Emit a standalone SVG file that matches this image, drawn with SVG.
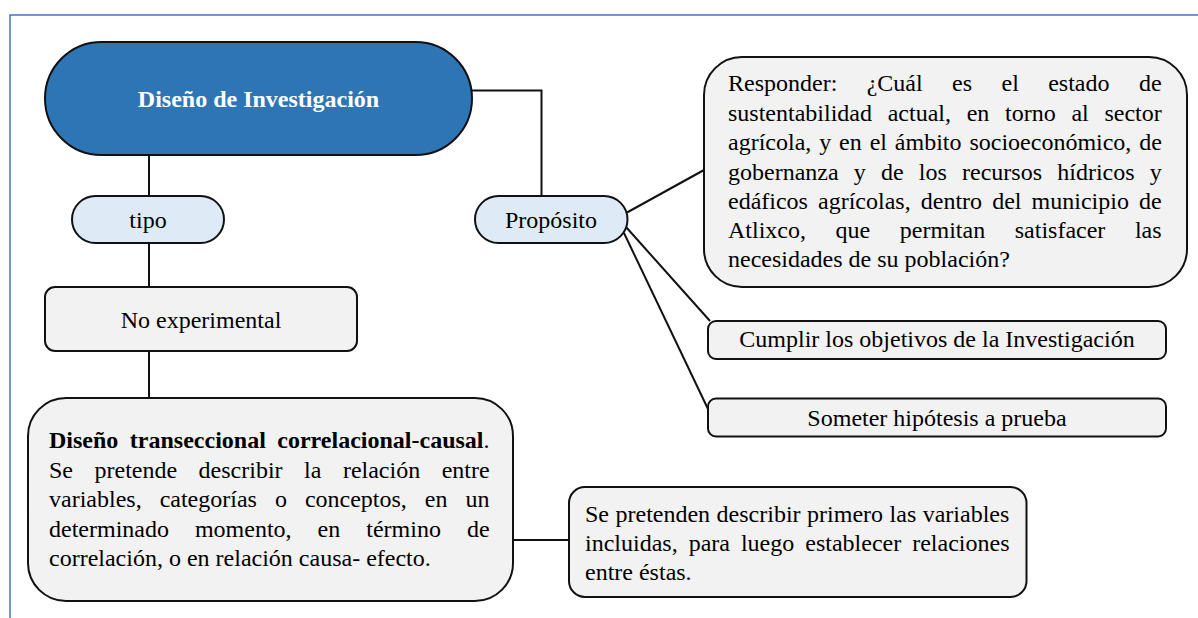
<svg xmlns="http://www.w3.org/2000/svg" width="1198" height="618" viewBox="0 0 1198 618">
<style>
text{font-family:"Liberation Serif","Times New Roman",serif;font-size:24px;fill:#000}
.c{text-anchor:middle}
.w{fill:#fff;font-weight:bold}
.b{font-weight:bold}
.box{fill:#F2F2F2;stroke:#111;stroke-width:2}
.pill{fill:#DEEBF7;stroke:#111;stroke-width:2}
.main{fill:#2E75B6;stroke:#111;stroke-width:2}
.ln{fill:none;stroke:#111;stroke-width:2}
.frame{fill:none;stroke:#4472C4;stroke-width:1.5}
</style>
<path class="frame" d="M10,618 V15 H1198"/>
<g id="connectors">
<path class="ln" d="M472,90.5 H541.5 V196"/>
<path class="ln" d="M149,155 V196"/>
<path class="ln" d="M149,243 V287"/>
<path class="ln" d="M149,351 V398"/>
<path class="ln" d="M627,212.5 L704,170"/>
<path class="ln" d="M626,227 L710,321"/>
<path class="ln" d="M624,233 L708,409"/>
<path class="ln" d="M513,540 H569"/>
</g>
<g id="n-main">
<rect class="main" x="45" y="42" width="427" height="113" rx="56.5"/>
<text class="c w" x="258.5" y="107">Diseño de Investigación</text>
</g>
<g id="n-tipo">
<rect class="pill" x="72" y="196" width="152" height="47" rx="23.5"/>
<text class="c" x="148" y="228">tipo</text>
</g>
<g id="n-proposito">
<rect class="pill" x="475" y="196" width="152.5" height="47" rx="23.5"/>
<text class="c" x="551" y="228">Propósito</text>
</g>
<g id="n-noexp">
<rect class="box" x="45" y="287" width="312" height="64" rx="10"/>
<text class="c" x="201" y="328">No experimental</text>
</g>
<g id="n-diseno">
<rect class="box" x="28" y="398" width="485" height="203" rx="38"/>
<text x="49" y="447.5" word-spacing="5.5"><tspan class="b">Diseño transeccional correlacional-causal</tspan>.</text>
<text x="49" y="477.5" word-spacing="15.5">Se pretende describir la relación entre</text>
<text x="49" y="507" word-spacing="12">variables, categorías o conceptos, en un</text>
<text x="49" y="536.5" word-spacing="20">determinado momento, en término de</text>
<text x="49" y="566">correlación, o en relación causa- efecto.</text>
</g>
<g id="n-responder">
<rect class="box" x="704" y="57" width="483" height="230" rx="38"/>
<text x="728" y="91" word-spacing="23.4">Responder: ¿Cuál es el estado de</text>
<text x="728" y="120.5" word-spacing="9.7">sustentabilidad actual, en torno al sector</text>
<text x="728" y="150" word-spacing="1.9">agrícola, y en el ámbito socioeconómico, de</text>
<text x="728" y="179.5" word-spacing="9.2">gobernanza y de los recursos hídricos y</text>
<text x="728" y="208.5" word-spacing="4.1">edáficos agrícolas, dentro del municipio de</text>
<text x="728" y="238" word-spacing="23.6">Atlixco, que permitan satisfacer las</text>
<text x="728" y="267">necesidades de su población?</text>
</g>
<g id="n-cumplir">
<rect class="box" x="708" y="321" width="458" height="38" rx="8"/>
<text class="c" x="937" y="347">Cumplir los objetivos de la Investigación</text>
</g>
<g id="n-someter">
<rect class="box" x="708" y="398.5" width="458" height="38" rx="8"/>
<text class="c" x="937" y="426">Someter hipótesis a prueba</text>
</g>
<g id="n-sepretenden">
<rect class="box" x="569" y="487" width="457.5" height="110" rx="16"/>
<text x="585" y="522" word-spacing="0.5">Se pretenden describir primero las variables</text>
<text x="585" y="551" word-spacing="5">incluidas, para luego establecer relaciones</text>
<text x="585" y="580">entre éstas.</text>
</g>
</svg>
